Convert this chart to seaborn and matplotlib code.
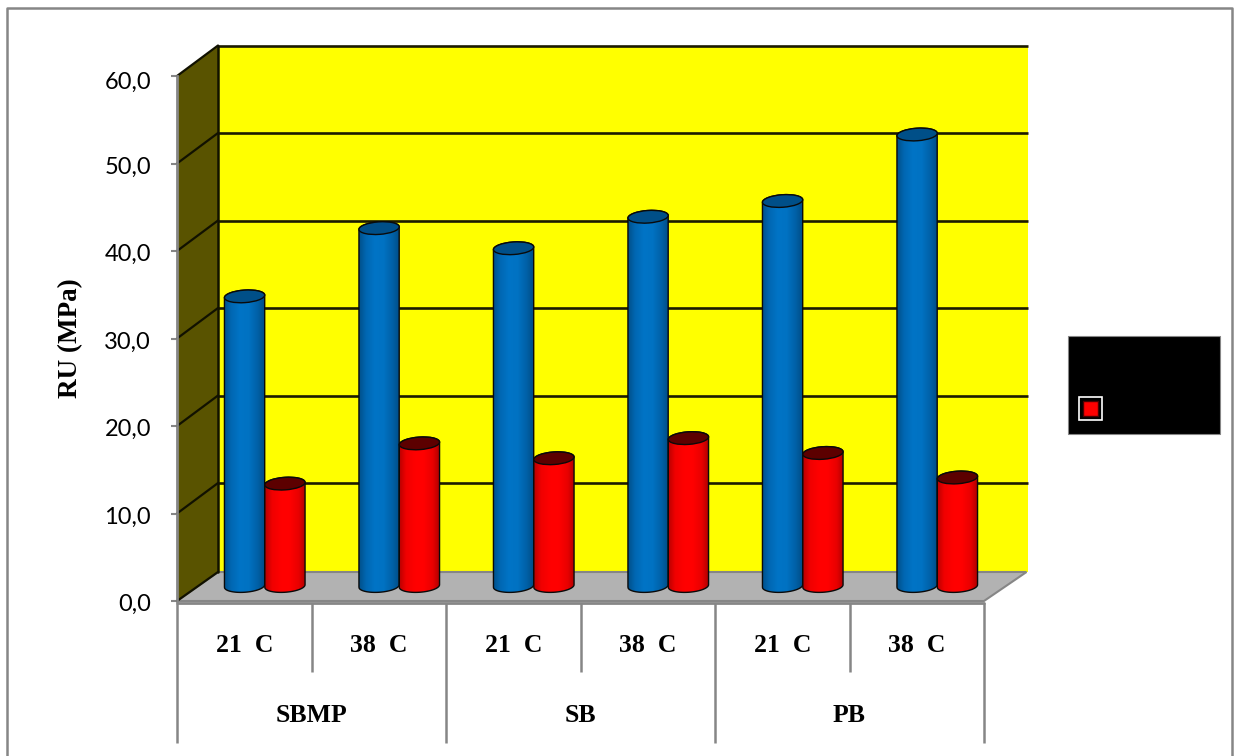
import numpy as np
import pandas as pd
import seaborn as sns
import matplotlib
matplotlib.use("Agg")
import matplotlib.pyplot as plt
from matplotlib.colors import LinearSegmentedColormap
from matplotlib.patches import Polygon, PathPatch, Ellipse, Rectangle
from matplotlib.path import Path
from matplotlib.transforms import Affine2D, IdentityTransform, blended_transform_factory

materials = ["SBMP", "SB", "PB"]
conditions = ["21  C", "38  C", "21  C", "38  C", "21  C", "38  C"]
blue_values = [33.1, 40.9, 38.6, 42.2, 44.0, 51.6]
red_values = [11.7, 16.3, 14.6, 16.9, 15.2, 12.4]
y_ticks = [0, 10, 20, 30, 40, 50, 60]

W, H = 1235, 756
DPI = 100
GRAY = "#868686"

sns.set_theme(style="white")
plt.rcParams["font.family"] = ["Lato", "DejaVu Sans"]

fig = plt.figure(figsize=(W / DPI, H / DPI), dpi=DPI, facecolor="white")
ax = fig.add_axes([177 / W, 1 - 601 / H, 807 / W, 525 / H])

frame = pd.DataFrame({
    "slot": list(range(6)) * 2,
    "series": ["blue"] * 6 + ["red"] * 6,
    "value": blue_values + red_values,
})
sns.barplot(data=frame, x="slot", y="value", hue="series",
            palette={"blue": "#0070c0", "red": "#ff0000"},
            width=0.6, gap=0, dodge=True, legend=False, ax=ax, zorder=3)
ax.set_xlim(-0.5, 5.5)
ax.set_ylim(0, 60)
ax.set_xlabel("")
ax.set_ylabel("")

# depth of the box and of the row of columns, in device pixels
DX, DY = 41, 29
WALL_DX, WALL_DY = 41, 30.5
MX, MY = 20.5, 15
back = ax.transData + Affine2D().translate(WALL_DX, WALL_DY)
middle = ax.transData + Affine2D().translate(MX, MY)
WALL_END = 5.52

# back wall, floor and side wall
ax.add_patch(Polygon([(-0.5, -0.2), (WALL_END, -0.2), (WALL_END, 60), (-0.5, 60)], closed=True,
                     facecolor="#ffff00", edgecolor="none", transform=back,
                     clip_on=False, zorder=0.5))
p0 = ax.transData.transform((-0.5, 0))
p1 = ax.transData.transform((5.5, 0))
floor = [p0, p1, p1 + (DX + 1.5, DY), p0 + (DX, DY)]
ax.add_patch(Polygon(floor, closed=True, facecolor="#b2b2b2", edgecolor=GRAY, lw=1.5,
                     transform=IdentityTransform(), clip_on=False, zorder=0.6))
pt = ax.transData.transform((-0.5, 60))
side = [p0, pt, pt + (WALL_DX, WALL_DY), p0 + (DX, DY)]
ax.add_patch(Polygon(side, closed=True, facecolor="#595300", edgecolor="none",
                     transform=IdentityTransform(), clip_on=False, zorder=0.7))

# gridlines run across the back wall and down the side wall
for tick in y_ticks:
    if tick > 0:
        ax.plot([-0.5, WALL_END], [tick, tick], color="#1c1a00", lw=1.9, transform=back,
                clip_on=False, zorder=1, solid_capstyle="butt")
    q = ax.transData.transform((-0.5, tick))
    rise = DY if tick == 0 else WALL_DY
    ax.plot([q[0], q[0] + DX], [q[1], q[1] + rise], color="#111100", lw=1.6,
            transform=IdentityTransform(), clip_on=False, zorder=1)
ax.plot([pt[0] + DX, pt[0] + DX], [p0[1] + DY, pt[1] + WALL_DY], color="#111100", lw=1.8,
        transform=IdentityTransform(), clip_on=False, zorder=1)

# shaded cylinders built on the rectangles that barplot produced
shades = {
    "blue": (["#00497e", "#0067b2", "#0074c6", "#0072c2", "#0060a6", "#00467a"], "#004f88"),
    "red": (["#a80000", "#f00000", "#ff0000", "#ff0000", "#e80000", "#9c0000"], "#5c0000"),
}
EH = 12.5   # ellipse height in pixels
TILT = 4.0  # ellipse tilt in degrees


def ellipse_points(cx, cy, w, h, a0, a1, n=40):
    t = np.radians(np.linspace(a0, a1, n))
    x, y = 0.5 * w * np.cos(t), 0.5 * h * np.sin(t)
    r = np.radians(TILT)
    return np.column_stack([cx + x * np.cos(r) - y * np.sin(r),
                            cy + x * np.sin(r) + y * np.cos(r)])


patches = list(ax.patches)
bars = [b for b in patches if isinstance(b, Rectangle) and b.get_height() > 0 and b.get_width() < 1]
names = ["blue"] * 6 + ["red"] * 6
order = np.argsort([b.get_x() for b in bars], kind="stable")
for rank, idx in enumerate(order):
    bar, name = bars[idx], names[idx]
    bar.set_visible(False)
    z = 3 + rank * 0.1
    xa, xb = bar.get_x(), bar.get_x() + bar.get_width()
    lo = middle.transform((xa, 0))
    hi = middle.transform((xb, bar.get_height()))
    w = hi[0] - lo[0]
    cx = 0.5 * (lo[0] + hi[0])
    lower = ellipse_points(cx, lo[1], w, EH, 180, 360)
    upper = ellipse_points(cx, hi[1], w, EH, 0, 180)
    body = np.vstack([lower, upper, lower[:1]])
    outline = PathPatch(Path(body), facecolor="none", edgecolor="#0a0a0a", lw=1.0,
                        transform=IdentityTransform(), clip_on=False, zorder=z + 0.02)
    cmap = LinearSegmentedColormap.from_list(name, shades[name][0])
    img = ax.imshow(np.linspace(0, 1, 128)[None, :], cmap=cmap, aspect="auto", zorder=z,
                    extent=(lo[0] - 2, hi[0] + 2, lo[1] - 12, hi[1] + 12),
                    transform=IdentityTransform(), clip_on=True)
    ax.add_patch(outline)
    img.set_clip_path(Path(body), IdentityTransform())
    ax.add_patch(Ellipse((cx, hi[1]), w, EH, angle=TILT, facecolor=shades[name][1],
                         edgecolor="#0a0a0a", lw=1.0, transform=IdentityTransform(),
                         clip_on=False, zorder=z + 0.03))
ax.set_xlim(-0.5, 5.5)
ax.set_ylim(0, 60)

# value axis
for side_name in ("top", "right", "bottom"):
    ax.spines[side_name].set_visible(False)
ax.spines["left"].set_color(GRAY)
ax.spines["left"].set_linewidth(2)
ax.set_yticks(y_ticks)
ax.set_yticklabels([f"{t:.1f}".replace(".", ",") for t in y_ticks], fontsize=17, color="black")
ax.tick_params(axis="y", left=True, length=4, width=1.5, color=GRAY, pad=14)
for tick, label in zip(y_ticks, ax.get_yticklabels()):
    drop = 4 if tick == 60 else 1.5
    label.set_transform(label.get_transform() + Affine2D().translate(-1, -drop))
ax.set_ylabel("RU (MPa)", fontfamily="Liberation Serif", fontweight="bold", fontsize=19.5,
              color="black")
ax.yaxis.set_label_coords(-0.116, 0.5)

# two-level category axis
ax.set_xticks([])
pix = blended_transform_factory(ax.transData, IdentityTransform())


def row_y(px):
    return H - px


SERIF = dict(fontfamily="Liberation Serif", fontweight="bold", fontsize=18.5, color="black",
             ha="center", va="center", transform=pix)

ax.plot([-0.5, 5.5], [row_y(603)] * 2, color=GRAY, lw=2, transform=pix, clip_on=False, zorder=1.5)
for k in range(7):
    bottom = 743 if k % 2 == 0 else 672
    ax.plot([k - 0.5, k - 0.5], [row_y(603), row_y(bottom)], color=GRAY, lw=1.8,
            transform=pix, clip_on=False, solid_capstyle="butt")
for k, label in enumerate(conditions):
    ax.text(k, row_y(646), label, **SERIF)
for k, label in enumerate(materials):
    ax.text(2 * k + 0.5, row_y(716), label, **SERIF)

# legend box with its single visible key
fig_px = IdentityTransform()
fig.add_artist(Rectangle((1068, H - 434), 152, 98, facecolor="black", edgecolor=GRAY, lw=0.8,
                         transform=fig_px))
fig.add_artist(Rectangle((1079, H - 420), 23, 23, facecolor="black", edgecolor="white", lw=1.2,
                         transform=fig_px))
fig.add_artist(Rectangle((1083, H - 416), 15, 15, facecolor="#ff0000", edgecolor="#4a0000", lw=1.0,
                         transform=fig_px))

# outer chart border, open along the lower edge
fig.add_artist(plt.Line2D([6.5, 6.5, 1232, 1232], [0, H - 8, H - 8, 0], color=GRAY, lw=1.8,
                          transform=fig_px))

fig.savefig("out.png", dpi=DPI, facecolor="white")
